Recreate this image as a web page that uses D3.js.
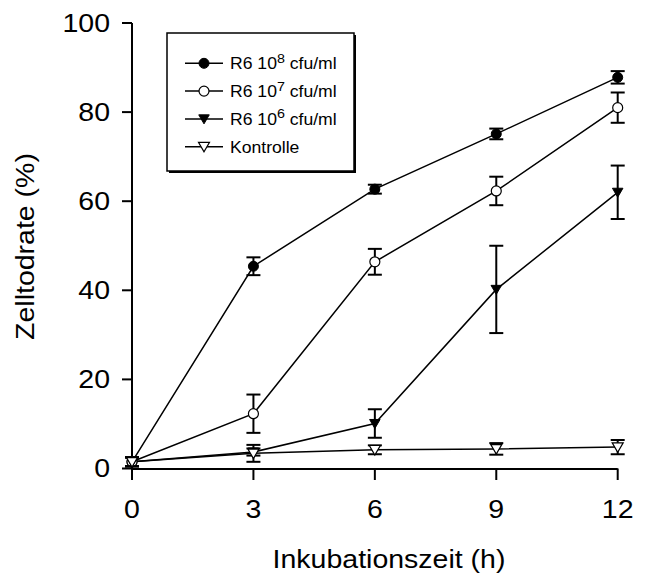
<!DOCTYPE html>
<html>
<head>
<meta charset="utf-8">
<script src="https://cdn.jsdelivr.net/npm/d3@7"></script>
<style>
  html, body { margin: 0; padding: 0; background: #fff; }
  svg { display: block; }
  text { font-family: Arial, "Liberation Sans", sans-serif; fill: #000; }
</style>
</head>
<body>
<svg id="chart" width="664" height="577"></svg>
<script>
// ---- data ----
const hours = [0, 3, 6, 9, 12];
const xTicks = [0, 3, 6, 9, 12];
const yTicks = [0, 20, 40, 60, 80, 100];

const r6e8 = [1.5, 45.4, 62.7, 75.1, 87.8];
const r6e8Err = [1.0, 2.0, 1.0, 1.2, 1.4];

const r6e7 = [1.5, 12.3, 46.4, 62.3, 81.0];
const r6e7Err = [1.0, 4.3, 2.9, 3.2, 3.4];

const r6e6 = [1.5, 3.7, 10.1, 40.2, 62.0];
const r6e6Err = [1.0, 0.8, 3.2, 9.8, 6.0];

const kontrolle = [1.5, 3.4, 4.2, 4.4, 4.8];
const kontrolleErr = [1.0, 1.9, 1.0, 1.3, 1.6];

const seriesNames = ["R6 10", "R6 10", "R6 10", "Kontrolle"];
const seriesExp = ["8", "7", "6", ""];
const seriesUnit = [" cfu/ml", " cfu/ml", " cfu/ml", ""];
const seriesSymbol = ["circleFilled", "circleOpen", "triFilled", "triOpen"];

const xTitle = "Inkubationszeit (h)";
const yTitle = "Zelltodrate (%)";

// ---- build ----
const series = [
  { values: r6e8, err: r6e8Err },
  { values: r6e7, err: r6e7Err },
  { values: r6e6, err: r6e6Err },
  { values: kontrolle, err: kontrolleErr }
].map((s, i) => ({ ...s, sym: seriesSymbol[i], name: seriesNames[i], exp: seriesExp[i], unit: seriesUnit[i] }));

const svg = d3.select("#chart");
const x = d3.scaleLinear().domain([0, 12]).range([132, 617.7]);
const y = d3.scaleLinear().domain([0, 100]).range([468.5, 23]);
const SX = 1.14; // horizontal glyph stretch of the reference font

function stretchedText(g, tx, ty, str, opts) {
  return g.append("text")
    .attr("transform", opts.rotate
      ? `translate(${tx},${ty}) rotate(-90) scale(${SX},1)`
      : `translate(${tx},${ty}) scale(${SX},1)`)
    .attr("text-anchor", opts.anchor || "middle")
    .attr("font-size", opts.size)
    .text(str);
}

// axes lines
const axisG = svg.append("g").attr("stroke", "#000").attr("stroke-width", 2).attr("fill", "none");
axisG.append("line").attr("x1", x(0)).attr("x2", x(0)).attr("y1", y(100)).attr("y2", y(0) + 0.5);
axisG.append("line").attr("x1", x(0) - 1).attr("x2", x(12)).attr("y1", y(0) + 0.5).attr("y2", y(0) + 0.5);

// y ticks
yTicks.forEach(v => {
  axisG.append("line").attr("x1", x(0) - 10).attr("x2", x(0)).attr("y1", y(v)).attr("y2", y(v));
  stretchedText(svg, 110, y(v) + 8.8, String(v), { size: 25, anchor: "end" });
});
// x ticks
xTicks.forEach(v => {
  axisG.append("line").attr("x1", x(v)).attr("x2", x(v)).attr("y1", y(0)).attr("y2", y(0) + 11.5);
  stretchedText(svg, x(v), 517.8, String(v), { size: 25, anchor: "middle" });
});

// titles
stretchedText(svg, 389, 568.3, xTitle, { size: 25 });
stretchedText(svg, 33.5, 246.5, yTitle, { size: 25, rotate: true });

// lines
const line = d3.line().x((d, i) => x(hours[i])).y(d => y(d));
svg.append("g").selectAll("path").data(series).join("path")
  .attr("d", s => line(s.values))
  .attr("fill", "none").attr("stroke", "#000").attr("stroke-width", 1.5);

// symbols
const triDown = (w, h) => `M${-w/2},${-h*0.45}L${w/2},${-h*0.45}L0,${h*0.55}Z`;
function drawSymbol(g, sym, cx, cy) {
  if (sym === "circleFilled") {
    g.append("circle").attr("cx", cx).attr("cy", cy).attr("r", 5).attr("fill", "#000").attr("stroke", "#000").attr("stroke-width", 1);
  } else if (sym === "circleOpen") {
    g.append("circle").attr("cx", cx).attr("cy", cy).attr("r", 5).attr("fill", "#fff").attr("stroke", "#000").attr("stroke-width", 1.2);
  } else if (sym === "triFilled") {
    g.append("path").attr("transform", `translate(${cx},${cy})`).attr("d", triDown(10.5, 9)).attr("fill", "#000").attr("stroke", "#000").attr("stroke-width", 1);
  } else {
    g.append("path").attr("transform", `translate(${cx},${cy})`).attr("d", triDown(11, 9.5)).attr("fill", "#fff").attr("stroke", "#000").attr("stroke-width", 1.2);
  }
}

series.forEach(s => {
  const g = svg.append("g");
  s.values.forEach((v, i) => {
    const cx = x(hours[i]);
    const top = y(v + s.err[i]), bot = y(v - s.err[i]);
    g.append("line").attr("x1", cx).attr("x2", cx).attr("y1", top).attr("y2", bot).attr("stroke", "#000").attr("stroke-width", 2);
    g.append("line").attr("x1", cx - 7).attr("x2", cx + 7).attr("y1", top).attr("y2", top).attr("stroke", "#000").attr("stroke-width", 2);
    g.append("line").attr("x1", cx - 7).attr("x2", cx + 7).attr("y1", bot).attr("y2", bot).attr("stroke", "#000").attr("stroke-width", 2);
  });
  s.values.forEach((v, i) => drawSymbol(g, s.sym, x(hours[i]), y(v)));
});

// legend
const lg = svg.append("g");
lg.append("rect").attr("x", 169).attr("y", 35).attr("width", 187).attr("height", 138).attr("fill", "#000");
lg.append("rect").attr("x", 167).attr("y", 33).attr("width", 187).attr("height", 138).attr("fill", "#fff").attr("stroke", "#000").attr("stroke-width", 1.5);
series.forEach((s, i) => {
  const cy = 63.3 + i * 27.8;
  lg.append("line").attr("x1", 185).attr("x2", 223).attr("y1", cy).attr("y2", cy).attr("stroke", "#000").attr("stroke-width", 1.5);
  drawSymbol(lg, s.sym, 204, cy);
  const t = lg.append("text")
    .attr("transform", `translate(230,${cy + 6}) scale(1.1,1)`)
    .attr("font-size", 16);
  t.append("tspan").text(s.name);
  if (s.exp) {
    t.append("tspan").attr("font-size", 13).attr("dy", -6.5).text(s.exp);
    t.append("tspan").attr("dy", 6.5).text(s.unit);
  }
});
</script>
</body>
</html>
